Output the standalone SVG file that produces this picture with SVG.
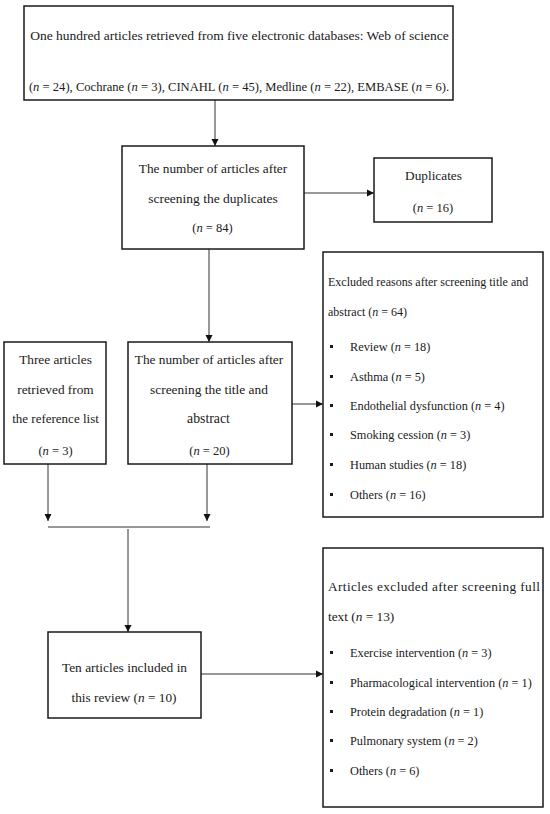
<svg xmlns="http://www.w3.org/2000/svg" width="550" height="814" viewBox="0 0 550 814">
<style>
.box{fill:#fff;stroke:#1a1a1a;stroke-width:1.5}
.t{font-family:"Liberation Serif","Times New Roman",serif;font-size:13.3px;fill:#1a1a1a}
.s{font-size:12.3px}
.h{font-size:12px}
.c{text-anchor:middle}
.i{font-style:italic}
.ln{fill:none;stroke:#333;stroke-width:1}
.b{fill:#1a1a1a}
</style>
<defs>
<marker id="ah" markerWidth="8" markerHeight="8" refX="7" refY="4" orient="auto" markerUnits="userSpaceOnUse">
<path d="M0,0.5 L7,4 L0,7.5 Z" fill="#111"/>
</marker>
</defs>
<rect width="550" height="814" fill="#fff"/>
<g id="connectors">
<line class="ln" x1="215" y1="100" x2="215" y2="146" marker-end="url(#ah)"/>
<line class="ln" x1="304" y1="193" x2="374" y2="193" marker-end="url(#ah)"/>
<line class="ln" x1="209" y1="249" x2="209" y2="342" marker-end="url(#ah)"/>
<line class="ln" x1="292" y1="404" x2="323" y2="404" marker-end="url(#ah)"/>
<line class="ln" x1="48" y1="464" x2="48" y2="521" marker-end="url(#ah)"/>
<line class="ln" x1="207" y1="464" x2="207" y2="521" marker-end="url(#ah)"/>
<line class="ln" x1="48" y1="527" x2="210" y2="527"/>
<line class="ln" x1="128" y1="529" x2="128" y2="632" marker-end="url(#ah)"/>
<line class="ln" x1="201" y1="674" x2="323" y2="674" marker-end="url(#ah)"/>
</g>
<g id="n1">
<rect class="box" x="24" y="6" width="429" height="94"/>
<text class="t c" x="239.5" y="40" style="font-size:13.5px">One hundred articles retrieved from five electronic databases: Web of science</text>
<text class="t c" x="239" y="91" style="font-size:12.6px">(<tspan class="i">n</tspan> = 24), Cochrane (<tspan class="i">n</tspan> = 3), CINAHL (<tspan class="i">n</tspan> = 45), Medline (<tspan class="i">n</tspan> = 22), EMBASE (<tspan class="i">n</tspan> = 6).</text>
</g>
<g id="n2">
<rect class="box" x="122" y="146" width="182" height="103"/>
<text class="t c" x="213" y="173">The number of articles after</text>
<text class="t c" x="213" y="203" style="font-size:13.5px">screening the duplicates</text>
<text class="t c" x="212.5" y="232" style="font-size:12.5px">(<tspan class="i">n</tspan> = 84)</text>
</g>
<g id="n3">
<rect class="box" x="374" y="158" width="118" height="64"/>
<text class="t c" x="433.5" y="180">Duplicates</text>
<text class="t c" x="433" y="212" style="font-size:12.5px">(<tspan class="i">n</tspan> = 16)</text>
</g>
<g id="n4">
<rect class="box" x="4" y="342" width="102" height="122"/>
<text class="t c" x="55.5" y="364">Three articles</text>
<text class="t c" x="55.5" y="394">retrieved from</text>
<text class="t c" x="55.5" y="423" style="font-size:13px">the reference list</text>
<text class="t c" x="55.5" y="455" style="font-size:12.5px">(<tspan class="i">n</tspan> = 3)</text>
</g>
<g id="n5">
<rect class="box" x="128" y="342" width="164" height="122"/>
<text class="t c" x="209" y="364">The number of articles after</text>
<text class="t c" x="209" y="394" style="font-size:13.4px">screening the title and</text>
<text class="t c" x="208.5" y="423" style="font-size:13.8px">abstract</text>
<text class="t c" x="209.5" y="455" style="font-size:12.5px">(<tspan class="i">n</tspan> = 20)</text>
</g>
<g id="n6">
<rect class="box" x="323" y="252" width="220" height="265"/>
<text class="t h" x="328" y="286">Excluded reasons after screening title and</text>
<text class="t h" x="328" y="316">abstract (<tspan class="i">n</tspan> = 64)</text>
<rect class="b" x="330" y="345" width="3" height="3"/>
<text class="t s" x="350" y="351">Review (<tspan class="i">n</tspan> = 18)</text>
<rect class="b" x="330" y="375" width="3" height="3"/>
<text class="t s" x="350" y="381">Asthma (<tspan class="i">n</tspan> = 5)</text>
<rect class="b" x="330" y="404" width="3" height="3"/>
<text class="t s" x="350" y="410">Endothelial dysfunction (<tspan class="i">n</tspan> = 4)</text>
<rect class="b" x="330" y="433" width="3" height="3"/>
<text class="t s" x="350" y="439">Smoking cession (<tspan class="i">n</tspan> = 3)</text>
<rect class="b" x="330" y="463" width="3" height="3"/>
<text class="t s" x="350" y="469">Human studies (<tspan class="i">n</tspan> = 18)</text>
<rect class="b" x="330" y="493" width="3" height="3"/>
<text class="t s" x="350" y="499">Others (<tspan class="i">n</tspan> = 16)</text>
</g>
<g id="n7">
<rect class="box" x="48" y="632" width="153" height="86"/>
<text class="t c" x="124.5" y="672" style="font-size:13.4px">Ten articles included in</text>
<text class="t c" x="124" y="702">this review (<tspan class="i">n</tspan> = 10)</text>
</g>
<g id="n8">
<rect class="box" x="323" y="548" width="220" height="259"/>
<text class="t" x="328" y="591" style="letter-spacing:0.4px">Articles excluded after screening full</text>
<text class="t" x="328" y="621">text (<tspan class="i">n</tspan> = 13)</text>
<rect class="b" x="330" y="651" width="3" height="3"/>
<text class="t s" x="350" y="657">Exercise intervention (<tspan class="i">n</tspan> = 3)</text>
<rect class="b" x="330" y="681" width="3" height="3"/>
<text class="t s" x="350" y="687">Pharmacological intervention (<tspan class="i">n</tspan> = 1)</text>
<rect class="b" x="330" y="710" width="3" height="3"/>
<text class="t s" x="350" y="716">Protein degradation (<tspan class="i">n</tspan> = 1)</text>
<rect class="b" x="330" y="739" width="3" height="3"/>
<text class="t s" x="350" y="745">Pulmonary system (<tspan class="i">n</tspan> = 2)</text>
<rect class="b" x="330" y="769" width="3" height="3"/>
<text class="t s" x="350" y="775">Others (<tspan class="i">n</tspan> = 6)</text>
</g>
</svg>
